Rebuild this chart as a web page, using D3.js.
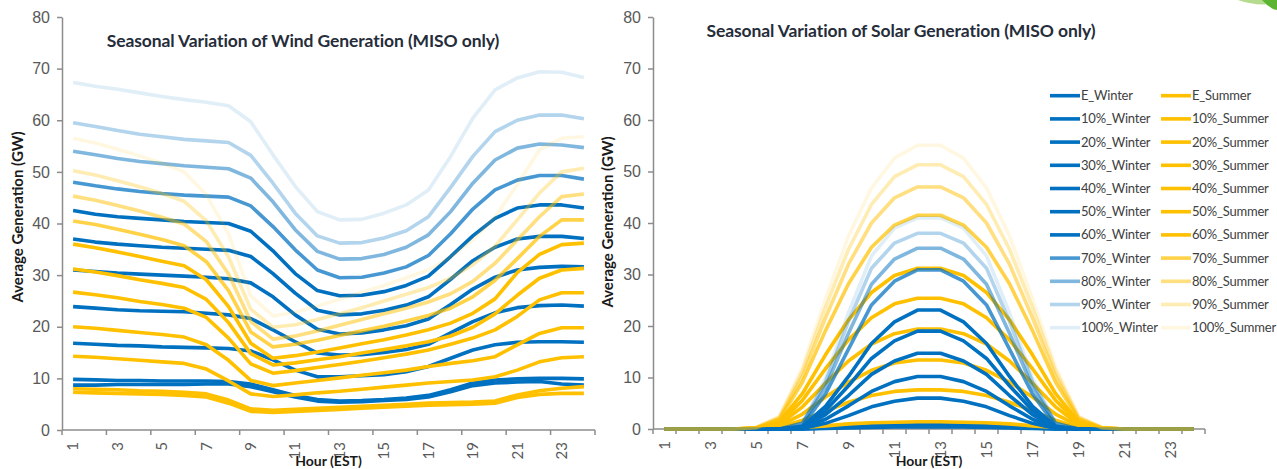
<!DOCTYPE html>
<html>
<head>
<meta charset="utf-8">
<script src="https://cdn.jsdelivr.net/npm/d3@7"></script>
<style>
  body { margin: 0; background: #fff; }
  svg { font-family: Lato, "Open Sans", sans-serif; }
</style>
</head>
<body>
<div id="chart"></div>
<script>
// categories
let hours = [1,2,3,4,5,6,7,8,9,10,11,12,13,14,15,16,17,18,19,20,21,22,23,24];
let levels = ["E","10%","20%","30%","40%","50%","60%","70%","80%","90%","100%"];
let yTicks = [0,10,20,30,40,50,60,70,80];

// wind, GW by hour, rows follow levels
let windWinter = [
  [8.7,8.7,8.8,8.8,8.8,8.8,8.9,8.9,8.4,7.4,6.4,5.6,5.4,5.5,5.7,5.9,6.4,7.4,8.6,9.1,9.3,9.4,8.9,8.7],
  [9.8,9.7,9.6,9.6,9.5,9.5,9.5,9.4,8.9,7.8,6.7,5.9,5.6,5.7,5.9,6.2,6.7,7.8,9.1,9.7,9.9,10.0,10.0,9.9],
  [16.8,16.6,16.4,16.3,16.1,16.0,15.9,15.8,15.3,13.6,11.6,10.3,10.3,10.5,10.7,11.3,12.3,13.9,15.5,16.5,17.0,17.1,17.1,17.0],
  [23.9,23.6,23.3,23.1,23.0,22.9,22.6,22.3,21.6,19.4,17.1,14.9,14.5,14.6,15.0,15.6,16.6,18.8,21.0,22.7,23.7,24.1,24.2,24.0],
  [31.0,30.7,30.4,30.2,30.0,29.8,29.6,29.3,28.5,25.8,22.3,19.5,18.6,18.8,19.4,20.2,21.5,24.3,27.3,29.6,31.0,31.5,31.7,31.6],
  [37.0,36.4,36.0,35.7,35.4,35.2,35.0,34.8,33.6,30.3,26.5,23.2,22.3,22.5,23.2,24.2,25.8,29.2,32.8,35.4,37.0,37.5,37.5,37.1],
  [42.5,41.8,41.3,41.0,40.7,40.4,40.2,40.0,38.5,34.7,30.3,27.0,26.0,26.1,26.8,28.0,29.8,33.6,37.6,41.0,43.0,43.6,43.6,43.0],
  [48.0,47.3,46.7,46.2,45.8,45.5,45.3,45.1,43.4,39.4,34.9,31.0,29.5,29.6,30.4,31.6,33.8,38.0,42.8,46.5,48.4,49.3,49.3,48.6],
  [54.0,53.3,52.6,52.0,51.6,51.2,50.9,50.6,48.8,44.2,38.8,34.6,33.1,33.2,34.0,35.4,37.8,42.3,47.8,52.3,54.6,55.4,55.2,54.7],
  [59.5,58.8,58.0,57.3,56.8,56.3,56.0,55.7,53.2,47.8,42.0,37.6,36.2,36.3,37.2,38.6,41.3,47.0,53.0,57.8,60.0,61.0,61.0,60.3],
  [67.3,66.6,66.0,65.3,64.6,64.0,63.5,62.8,59.7,53.3,47.2,42.3,40.7,40.8,42.0,43.6,46.5,53.0,60.4,65.9,68.2,69.4,69.3,68.3]
];
let windSummer = [
  [7.3,7.2,7.1,7.0,6.9,6.7,6.4,5.2,3.6,3.4,3.6,3.8,4.0,4.2,4.4,4.6,4.8,4.9,5.0,5.2,6.3,6.9,7.1,7.1],
  [8.0,7.9,7.8,7.6,7.5,7.3,7.0,5.8,4.1,3.8,4.0,4.2,4.4,4.6,4.8,5.0,5.2,5.3,5.4,5.6,6.8,7.6,8.1,8.4],
  [14.3,14.1,13.8,13.5,13.2,12.9,11.8,9.5,7.0,6.5,6.8,7.2,7.5,7.9,8.3,8.7,9.1,9.4,9.7,10.3,11.6,13.2,14.0,14.2],
  [20.0,19.7,19.3,18.9,18.5,18.0,16.5,13.5,9.6,8.6,9.1,9.6,10.1,10.6,11.1,11.6,12.3,12.9,13.4,14.2,16.5,18.7,19.8,19.8],
  [26.7,26.2,25.6,24.9,24.3,23.6,21.8,17.8,12.8,11.0,11.5,12.1,12.7,13.3,14.0,14.7,15.5,16.6,17.8,19.4,22.0,25.2,26.6,26.6],
  [31.2,30.6,29.9,29.1,28.4,27.6,25.3,20.8,14.8,12.6,13.0,13.6,14.2,14.9,15.6,16.3,17.1,18.2,19.9,22.5,26.1,29.4,31.0,31.3],
  [36.0,35.3,34.5,33.6,32.7,31.8,29.1,23.9,16.8,13.9,14.4,15.1,15.9,16.7,17.5,18.4,19.4,20.7,22.6,25.4,30.5,34.0,35.9,36.2],
  [40.5,39.8,38.9,37.9,36.9,35.7,32.6,27.0,19.0,16.1,16.6,17.4,18.3,19.2,20.1,21.1,22.2,23.6,25.8,29.0,33.2,37.5,40.7,40.7],
  [45.3,44.5,43.5,42.4,41.2,39.9,36.5,30.2,21.0,17.6,18.2,19.2,20.3,21.4,22.5,23.6,24.8,26.4,28.8,32.3,36.8,41.3,45.2,45.7],
  [50.2,49.4,48.3,47.1,45.8,44.3,40.5,33.5,23.4,19.9,20.4,21.4,22.5,23.7,25.0,26.3,27.6,29.4,32.0,35.6,40.7,45.9,50.0,50.7],
  [56.5,55.6,54.4,53.1,51.7,50.0,45.5,38.0,26.0,22.1,22.8,24.0,25.3,26.7,28.0,29.5,31.0,33.5,36.8,41.3,47.5,54.3,56.5,56.8]
];

// solar, GW by hour
let solarWinter = [
  [0,0,0,0,0,0,0,0.1,0.2,0.3,0.4,0.4,0.4,0.4,0.3,0.2,0.1,0,0,0,0,0,0,0],
  [0,0,0,0,0,0,0,0.2,0.4,0.6,0.7,0.8,0.8,0.7,0.6,0.4,0.2,0,0,0,0,0,0,0],
  [0,0,0,0,0,0,0.1,1.1,2.6,4.3,5.4,6.0,6.0,5.4,4.3,2.6,1.1,0.1,0,0,0,0,0,0],
  [0,0,0,0,0,0,0.2,1.9,4.5,7.3,9.2,10.2,10.2,9.2,7.3,4.5,1.9,0.2,0,0,0,0,0,0],
  [0,0,0,0,0,0,0.3,2.8,6.5,10.6,13.2,14.7,14.7,13.2,10.6,6.5,2.8,0.3,0,0,0,0,0,0],
  [0,0,0,0,0,0,0.4,3.6,8.4,13.7,17.1,19.0,19.0,17.1,13.7,8.4,3.6,0.4,0,0,0,0,0,0],
  [0,0,0,0,0,0,0.5,4.4,10.2,16.6,20.8,23.1,23.1,20.8,16.6,10.2,4.4,0.5,0,0,0,0,0,0],
  [0,0,0,0,0,0,0.6,6.8,15.5,24.1,28.7,30.9,30.9,28.7,24.1,15.5,6.8,0.6,0,0,0,0,0,0],
  [0,0,0,0,0,0,1.1,8.1,18.6,28.1,33.0,35.1,35.1,33.0,28.1,18.6,8.1,1.1,0,0,0,0,0,0],
  [0,0,0,0,0,0,1.1,9.1,20.9,31.2,36.1,38.0,38.0,36.1,31.2,20.9,9.1,1.1,0,0,0,0,0,0],
  [0,0,0,0,0,0,1.2,9.8,22.6,33.6,39.0,41.0,41.0,39.0,33.6,22.6,9.8,1.2,0,0,0,0,0,0]
];
let solarSummer = [
  [0,0,0,0,0,0,0.2,0.4,0.6,0.8,0.9,0.9,0.9,0.9,0.8,0.6,0.4,0.2,0,0,0,0,0,0],
  [0,0,0,0,0,0.1,0.3,0.6,1.0,1.2,1.3,1.4,1.4,1.3,1.2,1.0,0.6,0.3,0.1,0,0,0,0,0],
  [0,0,0,0,0.1,0.3,1.7,3.5,5.2,6.5,7.3,7.6,7.6,7.3,6.5,5.2,3.5,1.7,0.3,0.1,0,0,0,0],
  [0,0,0,0,0.1,0.6,2.9,6.2,9.1,11.4,12.8,13.4,13.4,12.8,11.4,9.1,6.2,2.9,0.6,0.1,0,0,0,0],
  [0,0,0,0,0.1,0.9,4.3,8.9,13.2,16.5,18.5,19.4,19.4,18.5,16.5,13.2,8.9,4.3,0.9,0.1,0,0,0,0],
  [0,0,0,0,0.2,1.1,5.6,11.7,17.3,21.6,24.3,25.4,25.4,24.3,21.6,17.3,11.7,5.6,1.1,0.2,0,0,0,0],
  [0,0,0,0,0.2,1.4,6.9,14.4,21.2,26.5,29.8,31.2,31.2,29.8,26.5,21.2,14.4,6.9,1.4,0.2,0,0,0,0],
  [0,0,0,0,0.2,1.9,9.1,19.1,28.2,35.3,39.6,41.5,41.5,39.6,35.3,28.2,19.1,9.1,1.9,0.2,0,0,0,0],
  [0,0,0,0,0.3,2.1,10.3,21.6,32.0,40.0,44.9,47.0,47.0,44.9,40.0,32.0,21.6,10.3,2.1,0.3,0,0,0,0],
  [0,0,0,0,0.3,2.3,11.3,23.6,34.9,43.6,49.0,51.3,51.3,49.0,43.6,34.9,23.6,11.3,2.3,0.3,0,0,0,0],
  [0,0,0,0,0.3,2.5,12.1,25.3,37.5,46.8,52.6,55.1,55.1,52.6,46.8,37.5,25.3,12.1,2.5,0.3,0,0,0,0]
];

let blue = "#0070c0", gold = "#ffc000";
// line strength per level (E ... 100%)
let alphas = [1,1,1,1,1,1,1,0.72,0.5,0.3,0.12];

let width = 1277, height = 469;

let svg = d3.select("#chart").append("svg")
    .attr("width", width)
    .attr("height", height);

// slide decoration, top right
svg.append("path")
    .attr("d", "M1238,0 Q1258,7 1277,3 L1277,0 Z")
    .attr("fill", "#b5dc8e");
svg.append("path")
    .attr("d", "M1262,0 Q1270,9 1277,10 L1277,0 Z")
    .attr("fill", "#5cb531");

function panel(opt) {
  let x = d3.scaleBand().domain(hours).range([opt.x0, opt.x1]);
  let y = d3.scaleLinear().domain([0, 80]).range([opt.yBot, opt.yTop]);
  let bw = x.bandwidth();
  let g = svg.append("g");

  // y axis
  let ya = g.append("g")
      .attr("transform", "translate(" + opt.x0 + ",0)")
      .call(d3.axisLeft(y).tickValues(yTicks).tickSize(5).tickSizeOuter(0).tickPadding(7));
  ya.select(".domain").attr("stroke", "#8c8c8c").attr("stroke-width", 1.5);
  ya.selectAll(".tick line").attr("stroke", "#8c8c8c").attr("stroke-width", 1.5);
  ya.selectAll("text").attr("fill", "#595959").style("font-size", "16px");

  // x axis line, tick marks on band edges
  g.append("line")
      .attr("x1", opt.x0).attr("x2", opt.x1)
      .attr("y1", y(0)).attr("y2", y(0))
      .attr("stroke", "#8c8c8c").attr("stroke-width", 1.5);
  let edges = hours.map(h => x(h)).concat([x.range()[1]])
      .filter((e, i) => i % opt.tickEvery === 0);
  g.selectAll(".xt").data(edges).enter().append("line")
      .attr("x1", d => d).attr("x2", d => d)
      .attr("y1", y(0)).attr("y2", y(0) + 5)
      .attr("stroke", "#8c8c8c").attr("stroke-width", 1.5);
  g.selectAll(".xl").data(hours.filter(h => h % 2 === 1)).enter().append("text")
      .attr("transform", d => "translate(" + (x(d) + bw / 2) + "," + y(0) + ") rotate(-90)")
      .attr("x", -12)
      .attr("dy", "0.35em")
      .attr("text-anchor", "end")
      .attr("fill", "#595959")
      .style("font-size", "15px")
      .text(d => d);

  // series, legend order: E_Winter, E_Summer, 10%_Winter ...
  let line = d3.line()
      .x((d, i) => x(hours[i]) + bw / 2)
      .y(d => y(d));
  levels.forEach(function(lv, i) {
    [[opt.winter[i], blue], [opt.summer[i], gold]].forEach(function(s) {
      g.append("path")
          .attr("d", line(s[0]))
          .attr("fill", "none")
          .attr("stroke", s[1])
          .attr("stroke-opacity", alphas[i])
          .attr("stroke-width", 3.6)
          .attr("stroke-linejoin", "round");
    });
  });

  // titles
  g.append("text")
      .attr("x", opt.titleX).attr("y", opt.titleY)
      .attr("text-anchor", "middle")
      .attr("fill", "#262d3a")
      .style("font-size", "17.5px").style("font-weight", "bold")
      .style("letter-spacing", "-0.1px")
      .text(opt.title);
  g.append("text")
      .attr("transform", "translate(" + opt.yTitleX + "," + opt.yTitleY + ") rotate(-90)")
      .attr("text-anchor", "middle")
      .attr("fill", "#1a1a1a")
      .style("font-size", "15px").style("font-weight", "bold")
      .text("Average Generation (GW)");
  g.append("text")
      .attr("x", (opt.x0 + opt.x1) / 2).attr("y", 466)
      .attr("text-anchor", "middle")
      .attr("fill", "#1a1a1a")
      .style("font-size", "14px").style("font-weight", "bold")
      .text("Hour (EST)");
}

panel({x0: 62, x1: 595, yTop: 17, yBot: 430, tickEvery: 2,
       winter: windWinter, summer: windSummer,
       title: "Seasonal Variation of Wind Generation (MISO only)", titleX: 303, titleY: 47,
       yTitleX: 23, yTitleY: 217});
panel({x0: 653, x1: 1205, yTop: 17, yBot: 429, tickEvery: 1,
       winter: solarWinter, summer: solarSummer,
       title: "Seasonal Variation of Solar Generation (MISO only)", titleX: 901, titleY: 37,
       yTitleX: 613, yTitleY: 222});

// legend
let legend = svg.append("g");
levels.forEach(function(lv, i) {
  [[1050, blue, "_Winter"], [1161, gold, "_Summer"]].forEach(function(c) {
    let ly = 95.7 + i * 23.2;
    legend.append("line")
        .attr("x1", c[0]).attr("x2", c[0] + 30)
        .attr("y1", ly).attr("y2", ly)
        .attr("stroke", c[1]).attr("stroke-opacity", alphas[i])
        .attr("stroke-width", 3.6);
    legend.append("text")
        .attr("x", c[0] + 31).attr("y", ly)
        .attr("dy", "0.35em")
        .attr("fill", "#404040")
        .style("font-size", "13px")
        .style("letter-spacing", "-0.2px")
        .text(lv + c[2]);
  });
});
</script>
</body>
</html>
